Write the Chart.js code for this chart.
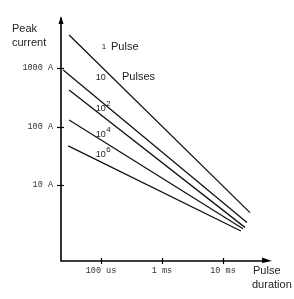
<!DOCTYPE html>
<html>
<head>
<meta charset="utf-8">
<script src="https://cdn.jsdelivr.net/npm/chart.js@4/dist/chart.umd.min.js"></script>
<style>
  html,body{margin:0;padding:0;background:#fff;}
  #wrap{width:294px;height:299px;}
</style>
</head>
<body>
<div id="wrap"><canvas id="c" width="294" height="299"></canvas></div>
<script>
// ---- data ----
const seriesNames   = ['1 Pulse', '10 Pulses', '10^2 Pulses', '10^4 Pulses', '10^6 Pulses'];
const startDurUs    = [30, 24, 30, 30, 29];           // pulse duration at line start (µs)
const startCurrentA = [3700, 930, 424, 130, 47];      // peak current at line start (A)
const endDurUs      = [27700, 24700, 22900, 21300, 19700];
const endCurrentA   = [3.4, 2.3, 1.9, 1.8, 1.65];

const yTickValues = [10, 100, 1000];
const yTickLabels = ['10 A', '100 A', '1000 A'];
const xTickValues = [100, 1000, 10000];
const xTickLabels = ['100 us', '1 ms', '10 ms'];

const datasets = seriesNames.map((name, i) => ({
  label: name,
  data: [{x: startDurUs[i], y: startCurrentA[i]}, {x: endDurUs[i], y: endCurrentA[i]}],
  showLine: true,
  borderColor: '#111',
  borderWidth: 1.3,
  pointRadius: 0,
  fill: false
}));

// text annotations anchored in data coordinates
const lineLabels = [
  {t: 103, a: 2300, text: '1', font: '8px "Liberation Sans"'},
  {t: 146, a: 2300, text: 'Pulse', font: '11px "Liberation Sans"'},
  {t: 82,  a: 680,  text: '10', font: '9px "Liberation Sans"'},
  {t: 221, a: 707,  text: 'Pulses', font: '11px "Liberation Sans"'},
  {t: 82,  a: 205,  text: '10', font: '9px "Liberation Sans"', sup: '2'},
  {t: 82,  a: 73,   text: '10', font: '9px "Liberation Sans"', sup: '4'},
  {t: 82,  a: 33,   text: '10', font: '9px "Liberation Sans"', sup: '6'}
];

const decor = {
  id: 'decor',
  afterDraw(chart) {
    const {ctx, chartArea: a, scales: {x, y}} = chart;
    ctx.save();
    ctx.strokeStyle = '#000';
    ctx.fillStyle = '#000';
    ctx.lineWidth = 1.6;
    // axes
    ctx.beginPath();
    ctx.moveTo(a.left, a.top + 2);
    ctx.lineTo(a.left, a.bottom);
    ctx.lineTo(a.right - 4, a.bottom);
    ctx.stroke();
    // arrowheads
    ctx.beginPath();
    ctx.moveTo(a.left, a.top);
    ctx.lineTo(a.left - 2.5, a.top + 8);
    ctx.lineTo(a.left + 2.5, a.top + 8);
    ctx.closePath();
    ctx.fill();
    ctx.beginPath();
    ctx.moveTo(a.right, a.bottom);
    ctx.lineTo(a.right - 10, a.bottom - 3.5);
    ctx.lineTo(a.right - 10, a.bottom + 2);
    ctx.closePath();
    ctx.fill();
    // tick crosses
    ctx.lineWidth = 1.2;
    yTickValues.forEach(v => {
      const py = Math.round(y.getPixelForValue(v)) + 0.5;
      ctx.beginPath(); ctx.moveTo(a.left - 4, py); ctx.lineTo(a.left + 3, py); ctx.stroke();
    });
    xTickValues.forEach(v => {
      const px = Math.round(x.getPixelForValue(v)) + 0.5;
      ctx.beginPath(); ctx.moveTo(px, a.bottom - 3); ctx.lineTo(px, a.bottom + 3); ctx.stroke();
    });
    // line labels
    ctx.fillStyle = '#222';
    ctx.textBaseline = 'middle';
    ctx.textAlign = 'left';
    lineLabels.forEach(l => {
      const px = x.getPixelForValue(l.t), py = y.getPixelForValue(l.a);
      ctx.font = l.font;
      ctx.fillText(l.text, px, py);
      if (l.sup) {
        const w = ctx.measureText(l.text).width;
        ctx.font = '8px "Liberation Sans"';
        ctx.fillText(l.sup, px + w + 0.5, py - 5);
      }
    });
    // axis titles
    ctx.font = '11px "Liberation Sans"';
    ctx.fillStyle = '#222';
    ctx.fillText('Peak', 12, 29);
    ctx.fillText('current', 12, 43);
    ctx.fillText('Pulse', 253, 271);
    ctx.fillText('duration', 252, 285);
    ctx.restore();
  }
};

new Chart(document.getElementById('c'), {
  type: 'scatter',
  data: {datasets},
  options: {
    responsive: false,
    animation: false,
    devicePixelRatio: 1,
    layout: {padding: {left: 0, right: 22, top: 16, bottom: 0}},
    plugins: {legend: {display: false}, tooltip: {enabled: false}},
    scales: {
      x: {
        type: 'logarithmic',
        min: 22.1,
        max: 63600,
        grid: {display: false, drawTicks: false},
        border: {display: false},
        afterBuildTicks: s => { s.ticks = xTickValues.map(v => ({value: v})); },
        afterFit: s => { s.height = 38; },
        ticks: {
          padding: 5,
          maxRotation: 0,
          autoSkip: false,
          color: '#333',
          font: {family: 'Liberation Mono', size: 8.5},
          callback: (v) => { const i = xTickValues.indexOf(v); return i >= 0 ? xTickLabels[i] : ''; }
        }
      },
      y: {
        type: 'logarithmic',
        min: 0.506,
        max: 7800,
        grid: {display: false, drawTicks: false},
        border: {display: false},
        afterBuildTicks: s => { s.ticks = yTickValues.map(v => ({value: v})); },
        afterFit: s => { s.width = 61; },
        ticks: {
          padding: 8,
          autoSkip: false,
          color: '#333',
          font: {family: 'Liberation Mono', size: 8.5},
          callback: (v) => { const i = yTickValues.indexOf(v); return i >= 0 ? yTickLabels[i] : ''; }
        }
      }
    }
  },
  plugins: [decor]
});
</script>
</body>
</html>
